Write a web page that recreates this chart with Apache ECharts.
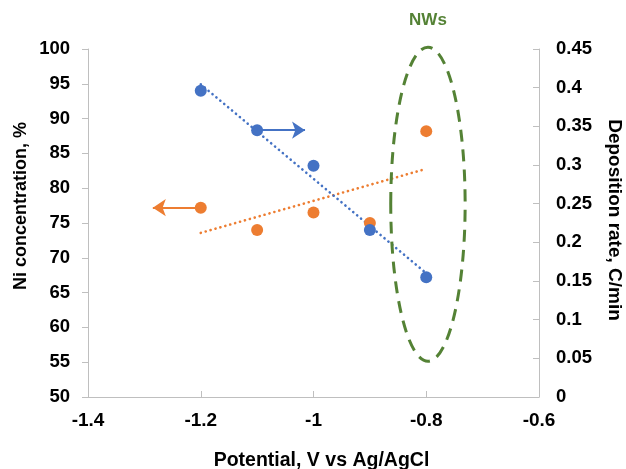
<!DOCTYPE html>
<html><head><meta charset="utf-8">
<script src="https://cdn.jsdelivr.net/npm/echarts@6/dist/echarts.min.js"></script>
<style>html,body{margin:0;padding:0;background:#fff}#c{width:626px;height:469px}</style>
</head><body><div id="c"></div>
<script>
// Data
const potentials = [-1.2, -1.1, -1.0, -0.9, -0.8];
const niConcentration = [77.2, 74.0, 76.5, 75.0, 88.2];
const depositionRate = [0.396, 0.345, 0.299, 0.216, 0.155];
const xTicks = [-1.4, -1.2, -1.0, -0.8, -0.6];
const leftTicks = [50, 55, 60, 65, 70, 75, 80, 85, 90, 95, 100];
const rightTicks = [0, 0.05, 0.1, 0.15, 0.2, 0.25, 0.3, 0.35, 0.4, 0.45];
// annotation arrows (data coords)
const blueArrow = [[-1.1, 0.345], [-1.015, 0.345]];
const orangeArrow = [[-1.2, 77.2], [-1.285, 77.2]];
// NWs ellipse in data coords (x, left-axis y) and radii
const nwsEllipse = {cx: -0.797, cy: 77.7, rx: 0.066, ry: 22.55};

function fit(xs, ys) {
  const n = xs.length;
  const mx = xs.reduce((a, b) => a + b, 0) / n;
  const my = ys.reduce((a, b) => a + b, 0) / n;
  let sxy = 0, sxx = 0;
  for (let i = 0; i < n; i++) { sxy += (xs[i] - mx) * (ys[i] - my); sxx += (xs[i] - mx) ** 2; }
  const k = sxy / sxx, b = my - k * mx;
  const x0 = Math.min(...xs), x1 = Math.max(...xs);
  return [[x0, k * x0 + b], [x1, k * x1 + b]];
}

const BLUE = '#4472C4', ORANGE = '#ED7D31', GREEN = '#548235';
const FONT = '"Liberation Sans", Arial, sans-serif';
const lbl = {color: '#000', fontSize: 18.5, fontWeight: 'bold', fontFamily: FONT};
const axisGray = '#bfbfbf';

const chart = echarts.init(document.getElementById('c'), null, {renderer: 'canvas'});
const option = {
  animation: false,
  backgroundColor: '#fff',
  grid: {left: 88, right: 87, top: 49, bottom: 72, containLabel: false},
  xAxis: {
    type: 'value', min: xTicks[0], max: xTicks[xTicks.length - 1], interval: 0.2,
    axisLine: {show: true, onZero: false, lineStyle: {color: axisGray, width: 1}},
    axisTick: {show: true, inside: true, length: 6, lineStyle: {color: axisGray}},
    splitLine: {show: false},
    axisLabel: Object.assign({margin: 14, formatter: v => String(+v.toFixed(1))}, lbl, {fontSize: 19})
  },
  yAxis: [{
    type: 'value', min: leftTicks[0], max: leftTicks[leftTicks.length - 1], interval: 5,
    axisLine: {show: true, onZero: false, lineStyle: {color: axisGray}},
    axisTick: {show: true, inside: false, length: 6, lineStyle: {color: axisGray}},
    splitLine: {show: false},
    axisLabel: Object.assign({margin: 18}, lbl)
  }, {
    type: 'value', position: 'right', min: rightTicks[0], max: rightTicks[rightTicks.length - 1], interval: 0.05,
    axisLine: {show: true, onZero: false, lineStyle: {color: axisGray}},
    axisTick: {show: true, inside: true, length: 6, lineStyle: {color: axisGray}},
    splitLine: {show: false},
    axisLabel: Object.assign({margin: 17, formatter: v => String(+v.toFixed(2))}, lbl)
  }],
  series: [
    {
      type: 'line', yAxisIndex: 0, data: fit(potentials, niConcentration), showSymbol: false, symbol: 'none',
      lineStyle: {color: ORANGE, width: 2.6, type: [0.1, 5], cap: 'round'}, silent: true, z: 2
    },
    {
      type: 'line', yAxisIndex: 1, data: fit(potentials, depositionRate), showSymbol: false, symbol: 'none',
      lineStyle: {color: BLUE, width: 2.6, type: [0.1, 5], cap: 'round'}, silent: true, z: 2
    },
    {
      type: 'scatter', yAxisIndex: 0, symbolSize: 12, itemStyle: {color: ORANGE, opacity: 1},
      data: potentials.map((x, i) => [x, niConcentration[i]]), z: 3,
      markLine: {
        silent: true, symbol: ['none', 'arrow'], symbolSize: 13, label: {show: false},
        lineStyle: {color: ORANGE, width: 2.2, type: 'solid'},
        data: [[{coord: orangeArrow[0]}, {coord: orangeArrow[1]}]]
      }
    },
    {
      type: 'scatter', yAxisIndex: 1, symbolSize: 12, itemStyle: {color: BLUE, opacity: 1},
      data: potentials.map((x, i) => [x, depositionRate[i]]), z: 4,
      markLine: {
        silent: true, symbol: ['none', 'arrow'], symbolSize: 13, label: {show: false},
        lineStyle: {color: BLUE, width: 2.2, type: 'solid'},
        data: [[{coord: blueArrow[0]}, {coord: blueArrow[1]}]]
      }
    }
  ]
};
chart.setOption(option);

const c = chart.convertToPixel({xAxisIndex: 0, yAxisIndex: 0}, [nwsEllipse.cx, nwsEllipse.cy]);
const e = chart.convertToPixel({xAxisIndex: 0, yAxisIndex: 0}, [nwsEllipse.cx + nwsEllipse.rx, nwsEllipse.cy + nwsEllipse.ry]);
const rx = Math.abs(e[0] - c[0]), ry = Math.abs(c[1] - e[1]);
const tf = {fontFamily: FONT, fontWeight: 'bold', fontSize: 18, fill: '#000'};
chart.setOption({
  graphic: [
    {type: 'ellipse', shape: {cx: c[0], cy: c[1], rx: rx, ry: ry}, silent: true, z: 10,
     style: {fill: 'none', stroke: GREEN, lineWidth: 3, lineDash: [12, 8]}},
    {type: 'text', x: c[0], y: c[1] - ry - 27, silent: true,
     style: Object.assign({}, tf, {text: 'NWs', fill: GREEN, fontSize: 17, align: 'center', verticalAlign: 'middle'})},
    {type: 'text', x: 321.5, y: 461, silent: true,
     style: Object.assign({}, tf, {text: 'Potential, V vs Ag/AgCl', fontSize: 19.5, align: 'center', verticalAlign: 'middle'})},
    {type: 'text', x: 21, y: 206, rotation: Math.PI / 2, silent: true,
     style: Object.assign({}, tf, {text: 'Ni concentration, %', align: 'center', verticalAlign: 'middle'})},
    {type: 'text', x: 614, y: 220, rotation: -Math.PI / 2, silent: true,
     style: Object.assign({}, tf, {text: 'Deposition rate, C/min', fontSize: 19, align: 'center', verticalAlign: 'middle'})}
  ]
});
</script></body></html>
